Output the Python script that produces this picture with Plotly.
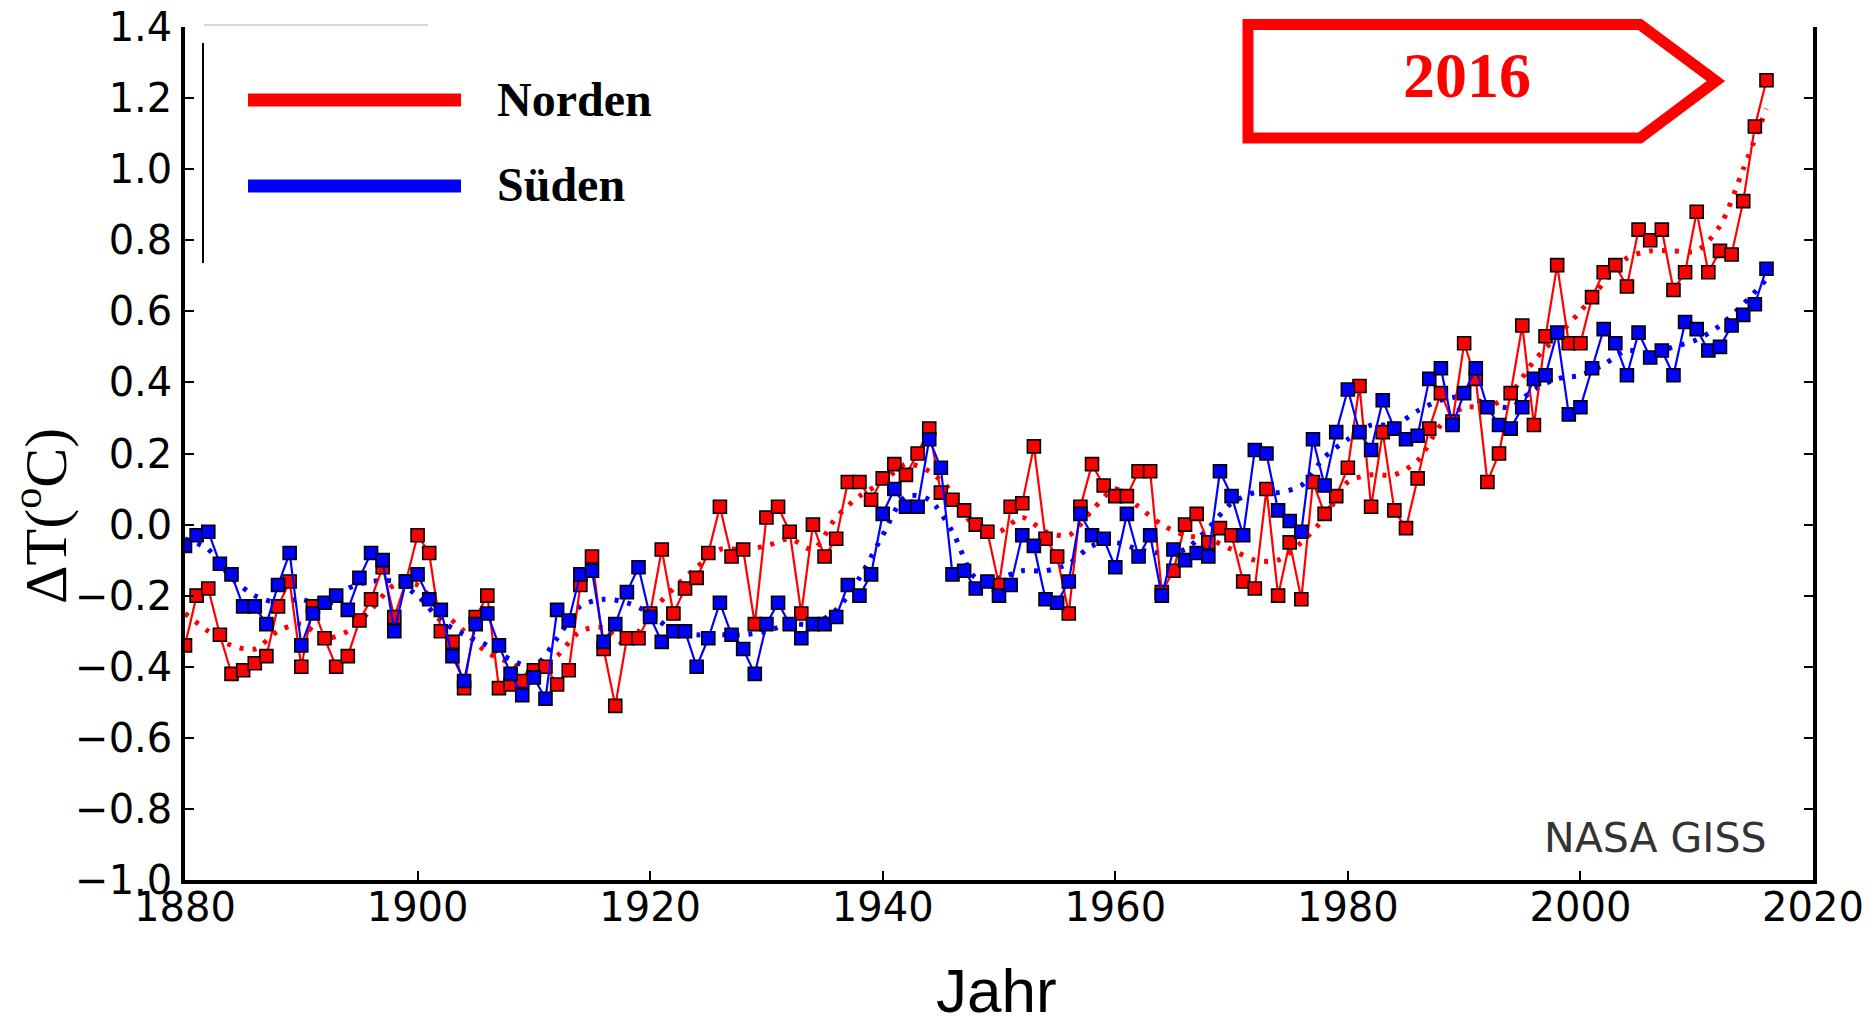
import plotly.graph_objects as go

# Annual temperature anomalies (°C), northern and southern hemisphere
years = list(range(1880, 2017))

north = [
    -0.34, -0.20, -0.18, -0.31, -0.42, -0.41, -0.39, -0.37, -0.23, -0.16,
    -0.40, -0.23, -0.32, -0.40, -0.37, -0.27, -0.21, -0.12, -0.26, -0.16,
    -0.03, -0.08, -0.30, -0.33, -0.46, -0.26, -0.20, -0.46, -0.45, -0.44,
    -0.41, -0.40, -0.45, -0.41, -0.17, -0.09, -0.35, -0.51, -0.32, -0.32,
    -0.25, -0.07, -0.25, -0.18, -0.15, -0.08, 0.05, -0.09, -0.07, -0.28,
    0.02, 0.05, -0.02, -0.25, 0.00, -0.09, -0.04, 0.12, 0.12, 0.07,
    0.13, 0.17, 0.14, 0.20, 0.27, 0.09, 0.07, 0.04, 0.00, -0.02,
    -0.17, 0.05, 0.06, 0.22, -0.04, -0.09, -0.25, 0.05, 0.17, 0.11,
    0.08, 0.08, 0.15, 0.15, -0.19, -0.13, 0.00, 0.03, -0.05, -0.01,
    -0.03, -0.16, -0.18, 0.10, -0.20, -0.05, -0.21, 0.12, 0.03, 0.08,
    0.16, 0.39, 0.05, 0.26, 0.04, -0.01, 0.13, 0.27, 0.37, 0.29,
    0.51, 0.41, 0.12, 0.20, 0.37, 0.56, 0.28, 0.53, 0.73, 0.51,
    0.51, 0.64, 0.71, 0.73, 0.67, 0.83, 0.80, 0.83, 0.66, 0.71,
    0.88, 0.71, 0.77, 0.76, 0.91, 1.12, 1.25,
]

south = [
    -0.06, -0.03, -0.02, -0.11, -0.14, -0.23, -0.23, -0.28, -0.17, -0.08,
    -0.34, -0.25, -0.22, -0.20, -0.24, -0.15, -0.08, -0.10, -0.30, -0.16,
    -0.14, -0.21, -0.24, -0.37, -0.44, -0.28, -0.25, -0.34, -0.42, -0.48,
    -0.43, -0.49, -0.24, -0.27, -0.14, -0.13, -0.33, -0.28, -0.19, -0.12,
    -0.26, -0.33, -0.30, -0.30, -0.40, -0.32, -0.22, -0.31, -0.35, -0.42,
    -0.28, -0.22, -0.28, -0.32, -0.28, -0.28, -0.26, -0.17, -0.20, -0.14,
    0.03, 0.10, 0.05, 0.05, 0.24, 0.16, -0.14, -0.13, -0.18, -0.16,
    -0.20, -0.17, -0.03, -0.06, -0.21, -0.22, -0.16, 0.03, -0.03, -0.04,
    -0.12, 0.03, -0.09, -0.03, -0.20, -0.07, -0.10, -0.08, -0.09, 0.15,
    0.08, -0.03, 0.21, 0.20, 0.04, 0.01, -0.02, 0.24, 0.11, 0.26,
    0.38, 0.26, 0.21, 0.35, 0.27, 0.24, 0.25, 0.41, 0.44, 0.28,
    0.37, 0.44, 0.33, 0.28, 0.27, 0.33, 0.41, 0.42, 0.54, 0.31,
    0.33, 0.44, 0.55, 0.51, 0.42, 0.54, 0.47, 0.49, 0.42, 0.57,
    0.55, 0.49, 0.50, 0.56, 0.59, 0.62, 0.72,
]

# Smoothed trend curves (dotted), sampled every second year
smooth_years = list(range(1880, 2017, 2))

north_smooth = [
    -0.25, -0.30, -0.34, -0.35, -0.30, -0.28, -0.32, -0.30, -0.24, -0.17,
    -0.17, -0.24, -0.30, -0.36, -0.39, -0.42, -0.37, -0.30, -0.29, -0.34,
    -0.25, -0.18, -0.12, -0.07, -0.07, -0.06, -0.04, -0.07, 0.02, 0.08,
    0.12, 0.17, 0.15, 0.09, -0.01, -0.02, 0.02, -0.02, -0.03, 0.04,
    0.10, 0.05, 0.00, -0.03, -0.04, -0.07, -0.10, -0.10, -0.05, 0.02,
    0.12, 0.14, 0.14, 0.18, 0.28, 0.33, 0.33, 0.37, 0.46, 0.53,
    0.60, 0.68, 0.75, 0.77, 0.77, 0.77, 0.84, 1.00, 1.17,
]

south_smooth = [
    -0.04, -0.07, -0.15, -0.20, -0.22, -0.21, -0.23, -0.18, -0.16, -0.16,
    -0.20, -0.27, -0.31, -0.34, -0.38, -0.40, -0.32, -0.23, -0.21, -0.22,
    -0.25, -0.30, -0.31, -0.31, -0.31, -0.30, -0.28, -0.28, -0.24, -0.15,
    -0.03, 0.08, 0.07, -0.02, -0.15, -0.15, -0.13, -0.13, -0.11, -0.06,
    -0.05, -0.07, -0.08, -0.07, -0.01, 0.06, 0.09, 0.09, 0.11, 0.19,
    0.24, 0.28, 0.28, 0.32, 0.35, 0.36, 0.34, 0.33, 0.38, 0.41,
    0.42, 0.45, 0.49, 0.48, 0.50, 0.52, 0.56, 0.62, 0.69,
]

x_ticks = [1880, 1900, 1920, 1940, 1960, 1980, 2000, 2020]
y_ticks = [-1.0, -0.8, -0.6, -0.4, -0.2, 0.0, 0.2, 0.4, 0.6, 0.8, 1.0, 1.2, 1.4]

RED = "#ff0000"
BLUE = "#0000ff"

# Canvas and plot-area geometry in pixels
W, H = 1870, 1027
L, R, T, B = 185, 1813, 27, 880


def fx(x):
    return (x - L) / (R - L)


def fy(y):
    return (B - y) / (B - T)


fig = go.Figure()

for ys, col in ((north_smooth, RED), (south_smooth, BLUE)):
    fig.add_trace(go.Scatter(
        x=smooth_years, y=ys, mode="lines", showlegend=False, hoverinfo="skip",
        line=dict(color=col, width=5, dash="4px,9px", shape="spline", smoothing=0.8),
    ))

for ys, col, name in ((north, RED, "Norden"), (south, BLUE, "Süden")):
    fig.add_trace(go.Scatter(
        x=years, y=ys, mode="lines+markers", name=name, showlegend=False,
        line=dict(color=col, width=2.2),
        marker=dict(symbol="square", size=13, color=col,
                    line=dict(color="#000000", width=1.6)),
    ))

tick_font = dict(family="DejaVu Sans", size=40, color="#000000")

fig.update_xaxes(
    range=[1880, 2020], tickvals=x_ticks, ticktext=[str(v) for v in x_ticks],
    showgrid=False, zeroline=False, showline=True, linecolor="#000000", linewidth=3.5,
    ticks="inside", ticklen=9, tickwidth=1.5, tickcolor="#000000",
    tickfont=tick_font, mirror=False, ticklabelstandoff=-11, automargin=False,
)
fig.update_yaxes(
    range=[-1.0, 1.4], tickvals=y_ticks, tickformat=".1f",
    showgrid=False, zeroline=False, showline=True, linecolor="#000000", linewidth=3.5,
    ticks="inside", ticklen=9, tickwidth=1.5, tickcolor="#000000",
    tickfont=tick_font, mirror="ticks", ticklabelstandoff=1, automargin=False,
)

shapes = []
annotations = []

# Legend: partial frame, swatch lines and labels
shapes.append(dict(type="line", xref="paper", yref="paper",
                   x0=fx(204), x1=fx(428), y0=fy(25), y1=fy(25),
                   line=dict(color="#b0b0b0", width=1.2)))
shapes.append(dict(type="line", xref="paper", yref="paper",
                   x0=fx(203), x1=fx(203), y0=fy(43), y1=fy(263),
                   line=dict(color="#000000", width=2)))
for yc, col, label in ((100, RED, "Norden"), (186, BLUE, "Süden")):
    shapes.append(dict(type="line", xref="paper", yref="paper",
                       x0=fx(248), x1=fx(461), y0=fy(yc), y1=fy(yc),
                       line=dict(color=col, width=13)))
    annotations.append(dict(
        xref="paper", yref="paper", x=fx(495), y=fy(yc - 1),
        xanchor="left", yanchor="middle", showarrow=False,
        text="<b>%s</b>" % label,
        font=dict(family="Liberation Serif", size=48, color="#000000"),
    ))

# Pointer box highlighting the record year
box = [(1248, 24.5), (1640, 24.5), (1716, 81), (1640, 138), (1248, 138)]
path = "M " + " L ".join("%.5f,%.5f" % (fx(px), fy(py)) for px, py in box) + " Z"
shapes.append(dict(type="path", xref="paper", yref="paper", path=path,
                   line=dict(color=RED, width=11), fillcolor="rgba(0,0,0,0)"))
annotations.append(dict(
    xref="paper", yref="paper", x=fx(1467), y=fy(76),
    xanchor="center", yanchor="middle", showarrow=False,
    text="<b>2016</b>",
    font=dict(family="Liberation Serif", size=64, color=RED),
))

# Source note
annotations.append(dict(
    xref="paper", yref="paper", x=fx(1769), y=fy(838),
    xanchor="right", yanchor="middle", showarrow=False,
    text="NASA GISS",
    font=dict(family="DejaVu Sans", size=41, color="#333333"),
))

# Axis titles
annotations.append(dict(
    xref="paper", yref="paper", x=fx(996), y=fy(990),
    xanchor="center", yanchor="middle", showarrow=False,
    text="Jahr",
    font=dict(family="Liberation Sans", size=62, color="#000000"),
))
annotations.append(dict(
    xref="paper", yref="paper", x=fx(41), y=fy(516),
    xanchor="center", yanchor="middle", showarrow=False, textangle=-90,
    text="ΔT(<sup>o</sup>C)",
    font=dict(family="Liberation Serif", size=60, color="#000000"),
))

fig.update_layout(
    width=W, height=H,
    margin=dict(l=L, r=W - R, t=T, b=H - B, pad=0, autoexpand=False),
    paper_bgcolor="#ffffff", plot_bgcolor="#ffffff",
    showlegend=False,
    shapes=shapes, annotations=annotations,
)

fig.write_html("out.html")
